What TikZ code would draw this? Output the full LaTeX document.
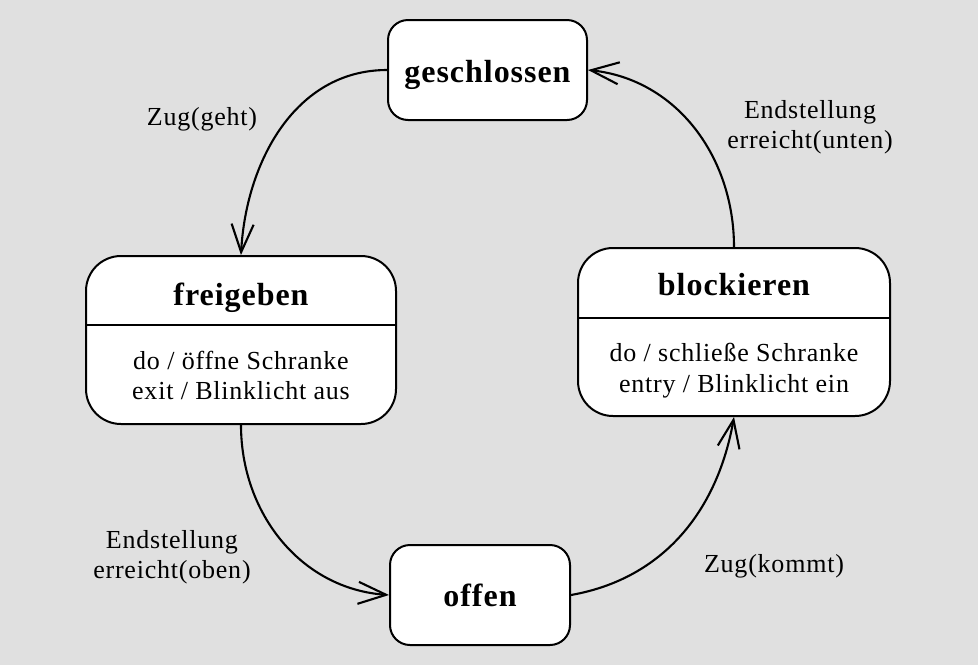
\documentclass[tikz,border=0pt]{standalone}
\usepackage{fontspec}
\setmainfont{Liberation Serif}[LetterSpace=3]
\usetikzlibrary{arrows.meta}
\definecolor{bggray}{HTML}{E0E0E0}
\begin{document}
\begin{tikzpicture}[x=1pt,y=1pt,
  statebox/.style={draw=black, fill=white, line width=2pt, inner sep=0pt},
  titletext/.style={inner sep=0pt, anchor=base, font=\fontsize{32}{38}\selectfont\bfseries},
  bodytext/.style={inner sep=0pt, anchor=base, align=center, font=\fontsize{26}{31}\selectfont},
  labeltext/.style={inner sep=0pt, anchor=base, align=center, font=\fontsize{26}{30}\selectfont},
  sepline/.style={line width=2pt},
  conn/.style={line width=2.1pt, -{Straight Barb[length=28pt,width=22pt]}}
]
\fill[bggray] (0,0) rectangle (978,-665);
\useasboundingbox (0,0) rectangle (978,-665);

% states
\node[statebox, minimum width=199pt, minimum height=100pt, rounded corners=20pt] (g) at (487.5,-70) {};
\node[titletext] (gt) at (487.5,-82) {geschlossen};

\node[statebox, minimum width=310pt, minimum height=168pt, rounded corners=35pt] (f) at (241,-340) {};
\node[titletext] (ft) at (241,-305) {freigeben};
\draw[sepline] (f.west |- 0,-325) -- (f.east |- 0,-325);
\node[bodytext] (fb1) at (241,-369) {do / öffne Schranke};
\node[bodytext] (fb2) at (241,-399) {exit / Blinklicht aus};

\node[statebox, minimum width=312pt, minimum height=168pt, rounded corners=35pt] (b) at (734,-332) {};
\node[titletext] (bt) at (734,-295) {blockieren};
\draw[sepline] (b.west |- 0,-318) -- (b.east |- 0,-318);
\node[bodytext] (bb1) at (734,-361) {do / schließe Schranke};
\node[bodytext] (bb2) at (734,-392) {entry / Blinklicht ein};

\node[statebox, minimum width=180pt, minimum height=100pt, rounded corners=20pt] (o) at (480,-595) {};
\node[titletext] (ot) at (480,-606) {offen};

% transitions
\draw[conn] (g.west) to[out=180,in=87] (f.north);
\draw[conn] (f.south) to[out=-90,in=176] (o.west);
\draw[conn] (o.east) to[out=10,in=-100] (b.south);
\draw[conn] (b.north) to[out=90,in=-6] (g.east);

% labels
\node[labeltext] (l1) at (202,-125) {Zug(geht)};
\node[labeltext] (l2a) at (810,-118) {Endstellung};
\node[labeltext] (l2b) at (810,-148) {erreicht(unten)};
\node[labeltext] (l3a) at (172,-548) {Endstellung};
\node[labeltext] (l3b) at (172,-578) {erreicht(oben)};
\node[labeltext] (l4) at (774,-572) {Zug(kommt)};
\end{tikzpicture}
\end{document}
